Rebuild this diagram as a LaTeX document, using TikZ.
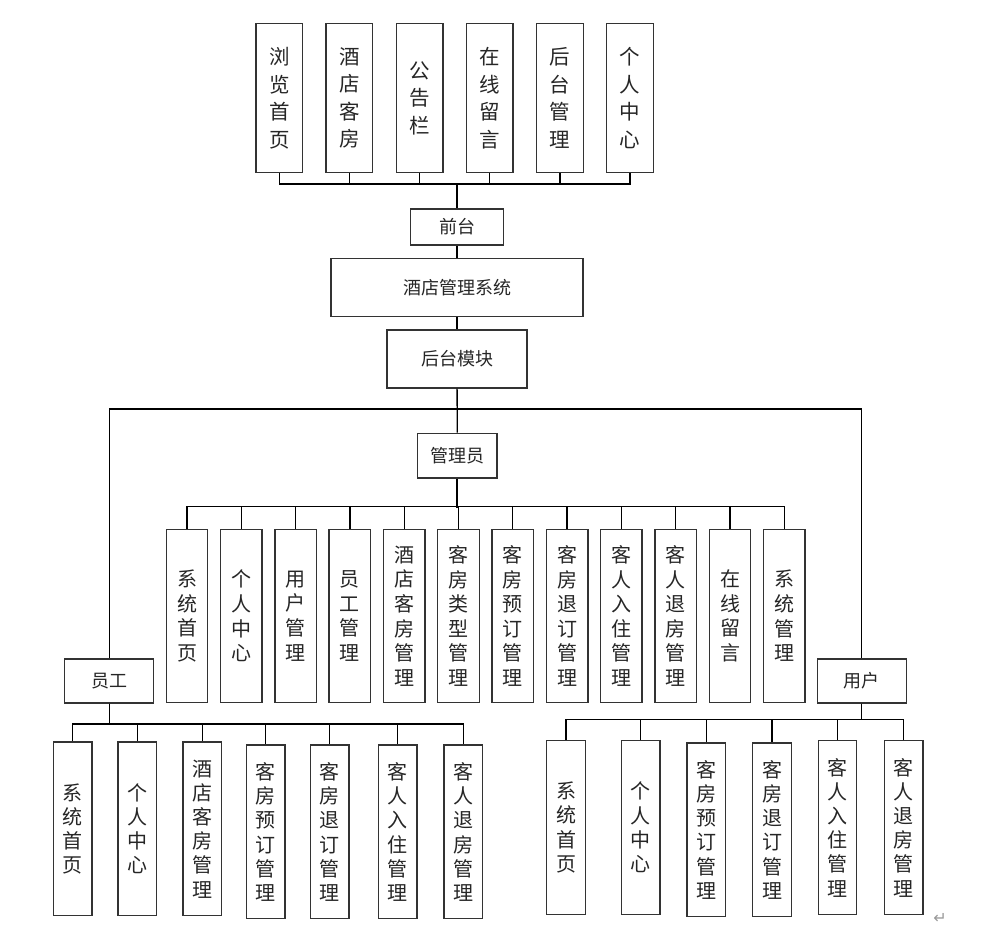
\documentclass[tikz,border=0pt]{standalone}
\usepackage{fontspec}
\setmainfont{Noto Sans CJK SC}
\newfontfamily\retfont{DejaVu Sans}
\usetikzlibrary{positioning}

\begin{document}
\begin{tikzpicture}[x=1pt, y=-1pt,
    box/.style={draw=black!80, line width=1.4pt, fill=white, inner sep=0pt, align=center, text=black!85},
    hbox/.style={box, font=\fontsize{18}{20}\selectfont},
    topbox/.style={box, minimum width=46.5, minimum height=149.4, font=\fontsize{20.5}{27.5}\selectfont},
    modbox/.style={box, minimum width=41.5, minimum height=173.4, font=\fontsize{20}{24.6}\selectfont},
    subbox/.style={box, minimum width=38.5, minimum height=173.6, font=\fontsize{20}{24.2}\selectfont},
    link/.style={draw=black, line width=1.3pt},
    trunk/.style={draw=black, line width=2.2pt}]

  \useasboundingbox (0,0) rectangle (983,939);

  % front end
  \node[topbox] (t1) at (279.3,98) {浏\\览\\首\\页};
  \node[topbox] (t2) at (349.3,98) {酒\\店\\客\\房};
  \node[topbox] (t3) at (419.7,98) {公\\告\\栏};
  \node[topbox] (t4) at (489.8,98) {在\\线\\留\\言};
  \node[topbox] (t5) at (560,98) {后\\台\\管\\理};
  \node[topbox] (t6) at (630,98) {个\\人\\中\\心};

  % main column
  \node[hbox, minimum width=93.4, minimum height=36.3] (qt) at (457,227) {前台};
  \node[hbox, minimum width=252, minimum height=58] (sys) at (457,287.7) {酒店管理系统};
  \node[hbox, minimum width=139.7, minimum height=58] (ht) at (457,359) {后台模块};
  \node[hbox, minimum width=79.3, minimum height=44.7] (gly) at (457.3,455.7) {管理员};
  \node[hbox, minimum width=89, minimum height=44] (yg) at (109.2,681) {员工};
  \node[hbox, minimum width=89, minimum height=44] (yh) at (861.8,681) {用户};

  % admin modules
  \node[modbox] (a1) at (187,616) {系\\统\\首\\页};
  \node[modbox] (a2) at (241.3,616) {个\\人\\中\\心};
  \node[modbox] (a3) at (295.6,616) {用\\户\\管\\理};
  \node[modbox] (a4) at (349.9,616) {员\\工\\管\\理};
  \node[modbox] (a5) at (404.2,616) {酒\\店\\客\\房\\管\\理};
  \node[modbox] (a6) at (458.5,616) {客\\房\\类\\型\\管\\理};
  \node[modbox] (a7) at (512.8,616) {客\\房\\预\\订\\管\\理};
  \node[modbox] (a8) at (567.1,616) {客\\房\\退\\订\\管\\理};
  \node[modbox] (a9) at (621.4,616) {客\\人\\入\\住\\管\\理};
  \node[modbox] (a10) at (675.7,616) {客\\人\\退\\房\\管\\理};
  \node[modbox] (a11) at (730,616) {在\\线\\留\\言};
  \node[modbox] (a12) at (784.3,616) {系\\统\\管\\理};

  % staff modules
  \node[subbox] (s1) at (72.7,828.9) {系\\统\\首\\页};
  \node[subbox] (s2) at (137.3,828.9) {个\\人\\中\\心};
  \node[subbox] (s3) at (202.2,828.9) {酒\\店\\客\\房\\管\\理};
  \node[subbox] (s4) at (265.8,831.9) {客\\房\\预\\订\\管\\理};
  \node[subbox] (s5) at (329.8,831.9) {客\\房\\退\\订\\管\\理};
  \node[subbox] (s6) at (397.8,831.9) {客\\人\\入\\住\\管\\理};
  \node[subbox] (s7) at (463.2,831.9) {客\\人\\退\\房\\管\\理};

  % user modules
  \node[subbox] (u1) at (566,827.5) {系\\统\\首\\页};
  \node[subbox] (u2) at (640.7,827.5) {个\\人\\中\\心};
  \node[subbox] (u3) at (706.3,829.7) {客\\房\\预\\订\\管\\理};
  \node[subbox] (u4) at (772,829.7) {客\\房\\退\\订\\管\\理};
  \node[subbox] (u5) at (837.5,827.5) {客\\人\\入\\住\\管\\理};
  \node[subbox] (u6) at (903.8,827.5) {客\\人\\退\\房\\管\\理};

  \node[text=black!40, font=\retfont\fontsize{16}{16}\selectfont] (ret) at (940,918) {↵};

  % connectors
  \foreach \i in {1,...,6}
    \draw[link] (t\i.south) -- ++(0,10.6) -| (qt.north);
  \draw[trunk] (qt.north) -- ++(0,-25.4);
  \draw[link] (qt) -- (sys);
  \draw[link] (sys) -- (ht);
  \draw[link] (ht) -- (gly);
  \draw[link] (yg.north) -- ++(0,-249.3) -| (yh.north);

  \foreach \i in {1,...,12}
    \draw[link] (a\i.north) -- ++(0,-22) -| (gly.south);
  \draw[trunk] (gly.south) -- ++(0,29.3);

  \foreach \i in {1,...,7}
    \draw[link] (yg.south) -- ++(0,20.3) -| (s\i.north);
  \foreach \i in {1,...,6}
    \draw[link] (yh.south) -- ++(0,15.7) -| (u\i.north);

\end{tikzpicture}
\end{document}
